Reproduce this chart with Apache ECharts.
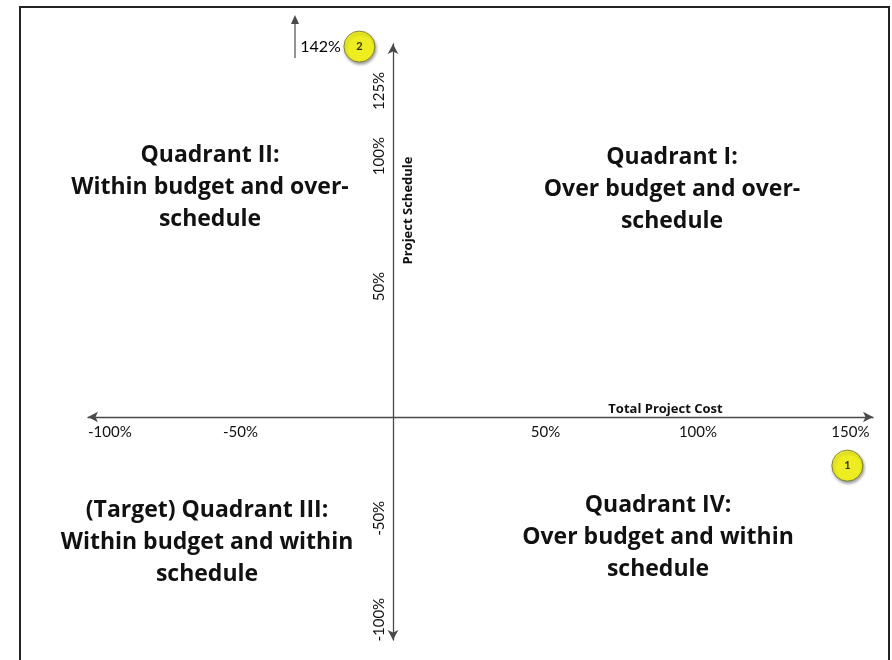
<!DOCTYPE html>
<html><head><meta charset="utf-8">
<script src="https://cdn.jsdelivr.net/npm/echarts@6/dist/echarts.min.js"></script>
<style>html,body{margin:0;padding:0;background:#fff}#c{width:892px;height:660px}</style>
</head><body><div id="c"></div>
<script>
// ---- data ----
const xTicks = [-100, -50, 50, 100, 150];
const yTicksUpper = [50, 100, 125];
const yTicksLower = [-50, -100];
const pointNames = ['1', '2'];
const pointCost = [149, -11];
const pointSchedule = [-24, 142];
const xAxisTitle = 'Total Project Cost';
const yAxisTitle = 'Project Schedule';
const quadrantTitles = [
  'Quadrant II:\nWithin budget and over-\nschedule',
  'Quadrant I:\nOver budget and over-\nschedule',
  '(Target) Quadrant III:\nWithin budget and within\nschedule',
  'Quadrant IV:\nOver budget and within\nschedule'
];

// ---- layout / style ----
const FONT = 'Lato, "Open Sans", sans-serif';
const QFONT = '"Open Sans", Lato, sans-serif';
const AXIS_COLOR = '#4a4a4a';
const quadrantPos = [[210, 139], [672, 141], [207, 494], [658, 489]];
const GRID_LEFT = 88, ZERO_X = 393;

const upperPts = [], lowerPts = [];
pointNames.forEach((n, i) => {
  const d = {name: n, value: [pointCost[i], pointSchedule[i]]};
  if (pointSchedule[i] >= 0) upperPts.push(d); else lowerPts.push(d);
});

const pointStyle = {
  color: '#ffff00', borderColor: '#6b6b2a', borderWidth: 1,
  shadowBlur: 3, shadowColor: 'rgba(0,0,0,0.45)', shadowOffsetX: 1, shadowOffsetY: 2
};
const pointLabel = {show: true, position: 'inside', formatter: '{b}', fontSize: 11, fontWeight: 'bold', color: '#000', fontFamily: FONT};
const axisLineStyle = {color: AXIS_COLOR, width: 1.3};

const chart = echarts.init(document.getElementById('c'), null, {renderer: 'canvas'});
chart.setOption({
  backgroundColor: '#fff',
  animation: false,
  grid: [
    {left: GRID_LEFT, right: 19, top: 44, height: 373},
    {left: GRID_LEFT, right: 19, top: 417, height: 223}
  ],
  xAxis: [
    {gridIndex: 0, type: 'value', min: -100, max: 157.4,
     splitLine: {show: false}, axisTick: {show: false},
     axisLine: {onZero: true, symbol: ['arrow', 'arrow'], symbolSize: [8, 10], lineStyle: axisLineStyle},
     axisLabel: {customValues: xTicks, formatter: v => v + '%', fontSize: 15, color: '#111', margin: 8, fontFamily: FONT, alignMinLabel: 'left'},
     name: xAxisTitle, nameLocation: 'middle', nameGap: -14, nameMoveOverlap: false,
     nameTextStyle: {fontSize: 13, fontWeight: 'bold', color: '#111', fontFamily: QFONT, padding: [0, 0, 0, 370]}},
    {gridIndex: 1, type: 'value', min: -100, max: 157.4, show: false}
  ],
  yAxis: [
    {gridIndex: 0, type: 'value', min: 0, max: 143, position: 'left', offset: GRID_LEFT - ZERO_X,
     splitLine: {show: false}, axisTick: {show: false},
     axisLine: {onZero: false, symbol: ['none', 'arrow'], symbolSize: [8, 10], lineStyle: axisLineStyle},
     axisLabel: {customValues: yTicksUpper, formatter: v => v + '%', rotate: 90, fontSize: 15, color: '#111', margin: 6, fontFamily: FONT},
     name: yAxisTitle, nameLocation: 'middle', nameGap: -22, nameMoveOverlap: false,
     nameTextStyle: {fontSize: 13, fontWeight: 'bold', color: '#111', fontFamily: QFONT, padding: [0, 0, 0, 40]}},
    {gridIndex: 1, type: 'value', min: -110, max: 0, position: 'left', offset: GRID_LEFT - ZERO_X,
     splitLine: {show: false}, axisTick: {show: false},
     axisLine: {onZero: false, symbol: ['arrow', 'none'], symbolSize: [8, 10], lineStyle: axisLineStyle},
     axisLabel: {customValues: yTicksLower, formatter: v => v + '%', rotate: 90, fontSize: 15, color: '#111', margin: 6, fontFamily: FONT}}
  ],
  series: [
    {type: 'scatter', xAxisIndex: 0, yAxisIndex: 0, data: upperPts, symbolSize: 31, itemStyle: pointStyle, label: pointLabel, clip: false, z: 5},
    {type: 'scatter', xAxisIndex: 0, yAxisIndex: 0, data: upperPts, symbolSize: 31, itemStyle: {color: 'rgba(0,0,0,0)'}, clip: false,
     label: {show: true, position: 'left', distance: 3, formatter: p => p.value[1] + '%', fontSize: 16, color: '#000', opacity: 1, fontFamily: FONT}, z: 4},
    {type: 'scatter', xAxisIndex: 1, yAxisIndex: 1, data: lowerPts, symbolSize: 31, itemStyle: pointStyle, label: pointLabel, clip: false, z: 5}
  ],
  graphic: [
    {type: 'polyline', shape: {points: [[20, 662], [20, 7], [889, 7], [889, 662]]}, style: {stroke: '#222', lineWidth: 2, fill: null}, silent: true},
    {type: 'line', shape: {x1: 295, y1: 58, x2: 295, y2: 22}, style: {stroke: AXIS_COLOR, lineWidth: 1.2}, silent: true},
    {type: 'polygon', shape: {points: [[291, 24], [299, 24], [295, 15]]}, style: {fill: AXIS_COLOR}, silent: true}
  ].concat(quadrantTitles.map((t, i) => ({
    type: 'text', x: quadrantPos[i][0], y: quadrantPos[i][1], silent: true,
    style: {text: t, align: 'center', verticalAlign: 'top', font: 'bold 23px ' + QFONT, lineHeight: 32, fill: '#111'}
  })))
});
</script></body></html>
